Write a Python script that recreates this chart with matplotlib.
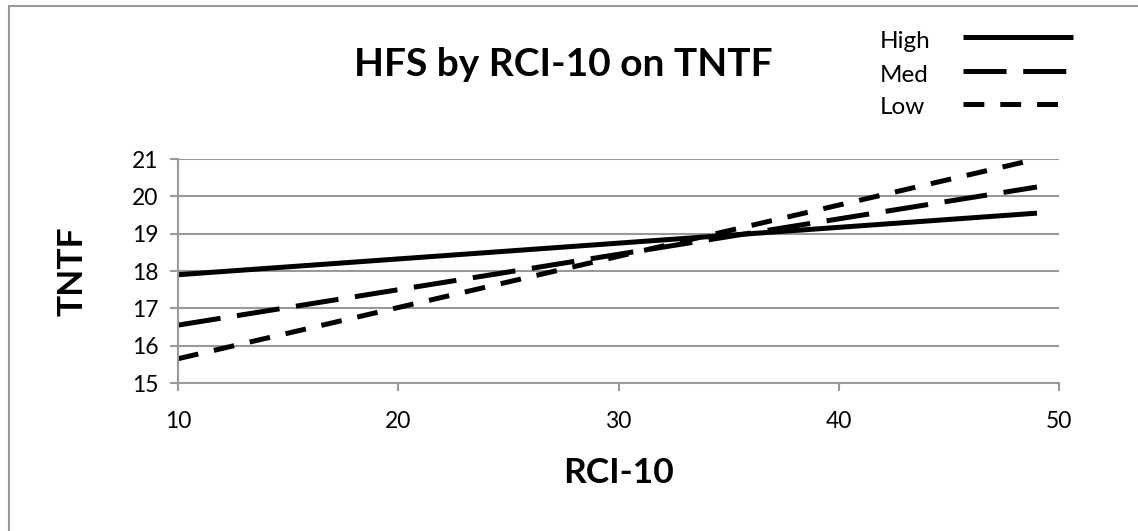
import matplotlib.pyplot as plt
from matplotlib.patches import Rectangle

plt.rcParams['font.family'] = ['Lato', 'DejaVu Sans']
plt.rcParams['lines.scale_dashes'] = False

x = [10, 49]
high = [17.9, 19.55]
med = [16.55, 20.25]
low = [15.65, 21.0]
series = ['High', 'Med', 'Low']

W, H = 1138, 531
fig = plt.figure(figsize=(W / 100, H / 100), dpi=100)
fig.patches.append(Rectangle((9 / W, -0.1), 1.2, 1 - 6 / H + 0.1, transform=fig.transFigure,
                             fill=False, edgecolor='#999999', linewidth=1.5))

ax = fig.add_axes([178 / W, 1 - 383 / H, 881 / W, 224 / H])
grey = '#999999'
l1, = ax.plot(x, high, color='black', lw=3.6, solid_capstyle='butt')
l2, = ax.plot(x, med, color='black', lw=3.6, linestyle=(0, (31, 12)), dash_capstyle='butt')
l3, = ax.plot(x, low, color='black', lw=3.6, linestyle=(0, (15, 11.5)), dash_capstyle='butt')

ax.set_xlim(10, 50)
ax.set_ylim(15, 21)
ax.set_xticks([10, 20, 30, 40, 50])
ax.set_yticks(range(15, 22))
ax.yaxis.grid(True, color=grey, lw=1.5)
ax.set_axisbelow(True)
for s in ['top', 'right']:
    ax.spines[s].set_visible(False)
for s in ['left', 'bottom']:
    ax.spines[s].set_color(grey)
    ax.spines[s].set_linewidth(1.5)
ax.tick_params(axis='both', direction='out', length=6, width=1.5, color=grey,
               labelsize=16.5, pad=8)
ax.tick_params(axis='x', pad=14)

ax.set_xlabel('RCI-10', fontsize=25.5, fontweight='bold', labelpad=18)
ax.set_ylabel('TNTF', fontsize=25.5, fontweight='bold', labelpad=31)

fig.text(563 / W, 1 - 65 / H, 'HFS by RCI-10 on TNTF', fontsize=28, fontweight='bold',
         ha='center', va='center')

# legend: labels left aligned, samples to their right
for name, yy in zip(series, [41, 75, 108]):
    fig.text(880 / W, 1 - yy / H, name, fontsize=17.5, ha='left', va='center')
fig.legend([l1, l2, l3], ['', '', ''], loc='upper left', bbox_to_anchor=(963 / W, 1 - 27 / H),
           frameon=False, handlelength=4.4, fontsize=18, handletextpad=0,
           labelspacing=0.42, borderpad=0, borderaxespad=0)

fig.savefig('out.png', dpi=100)
